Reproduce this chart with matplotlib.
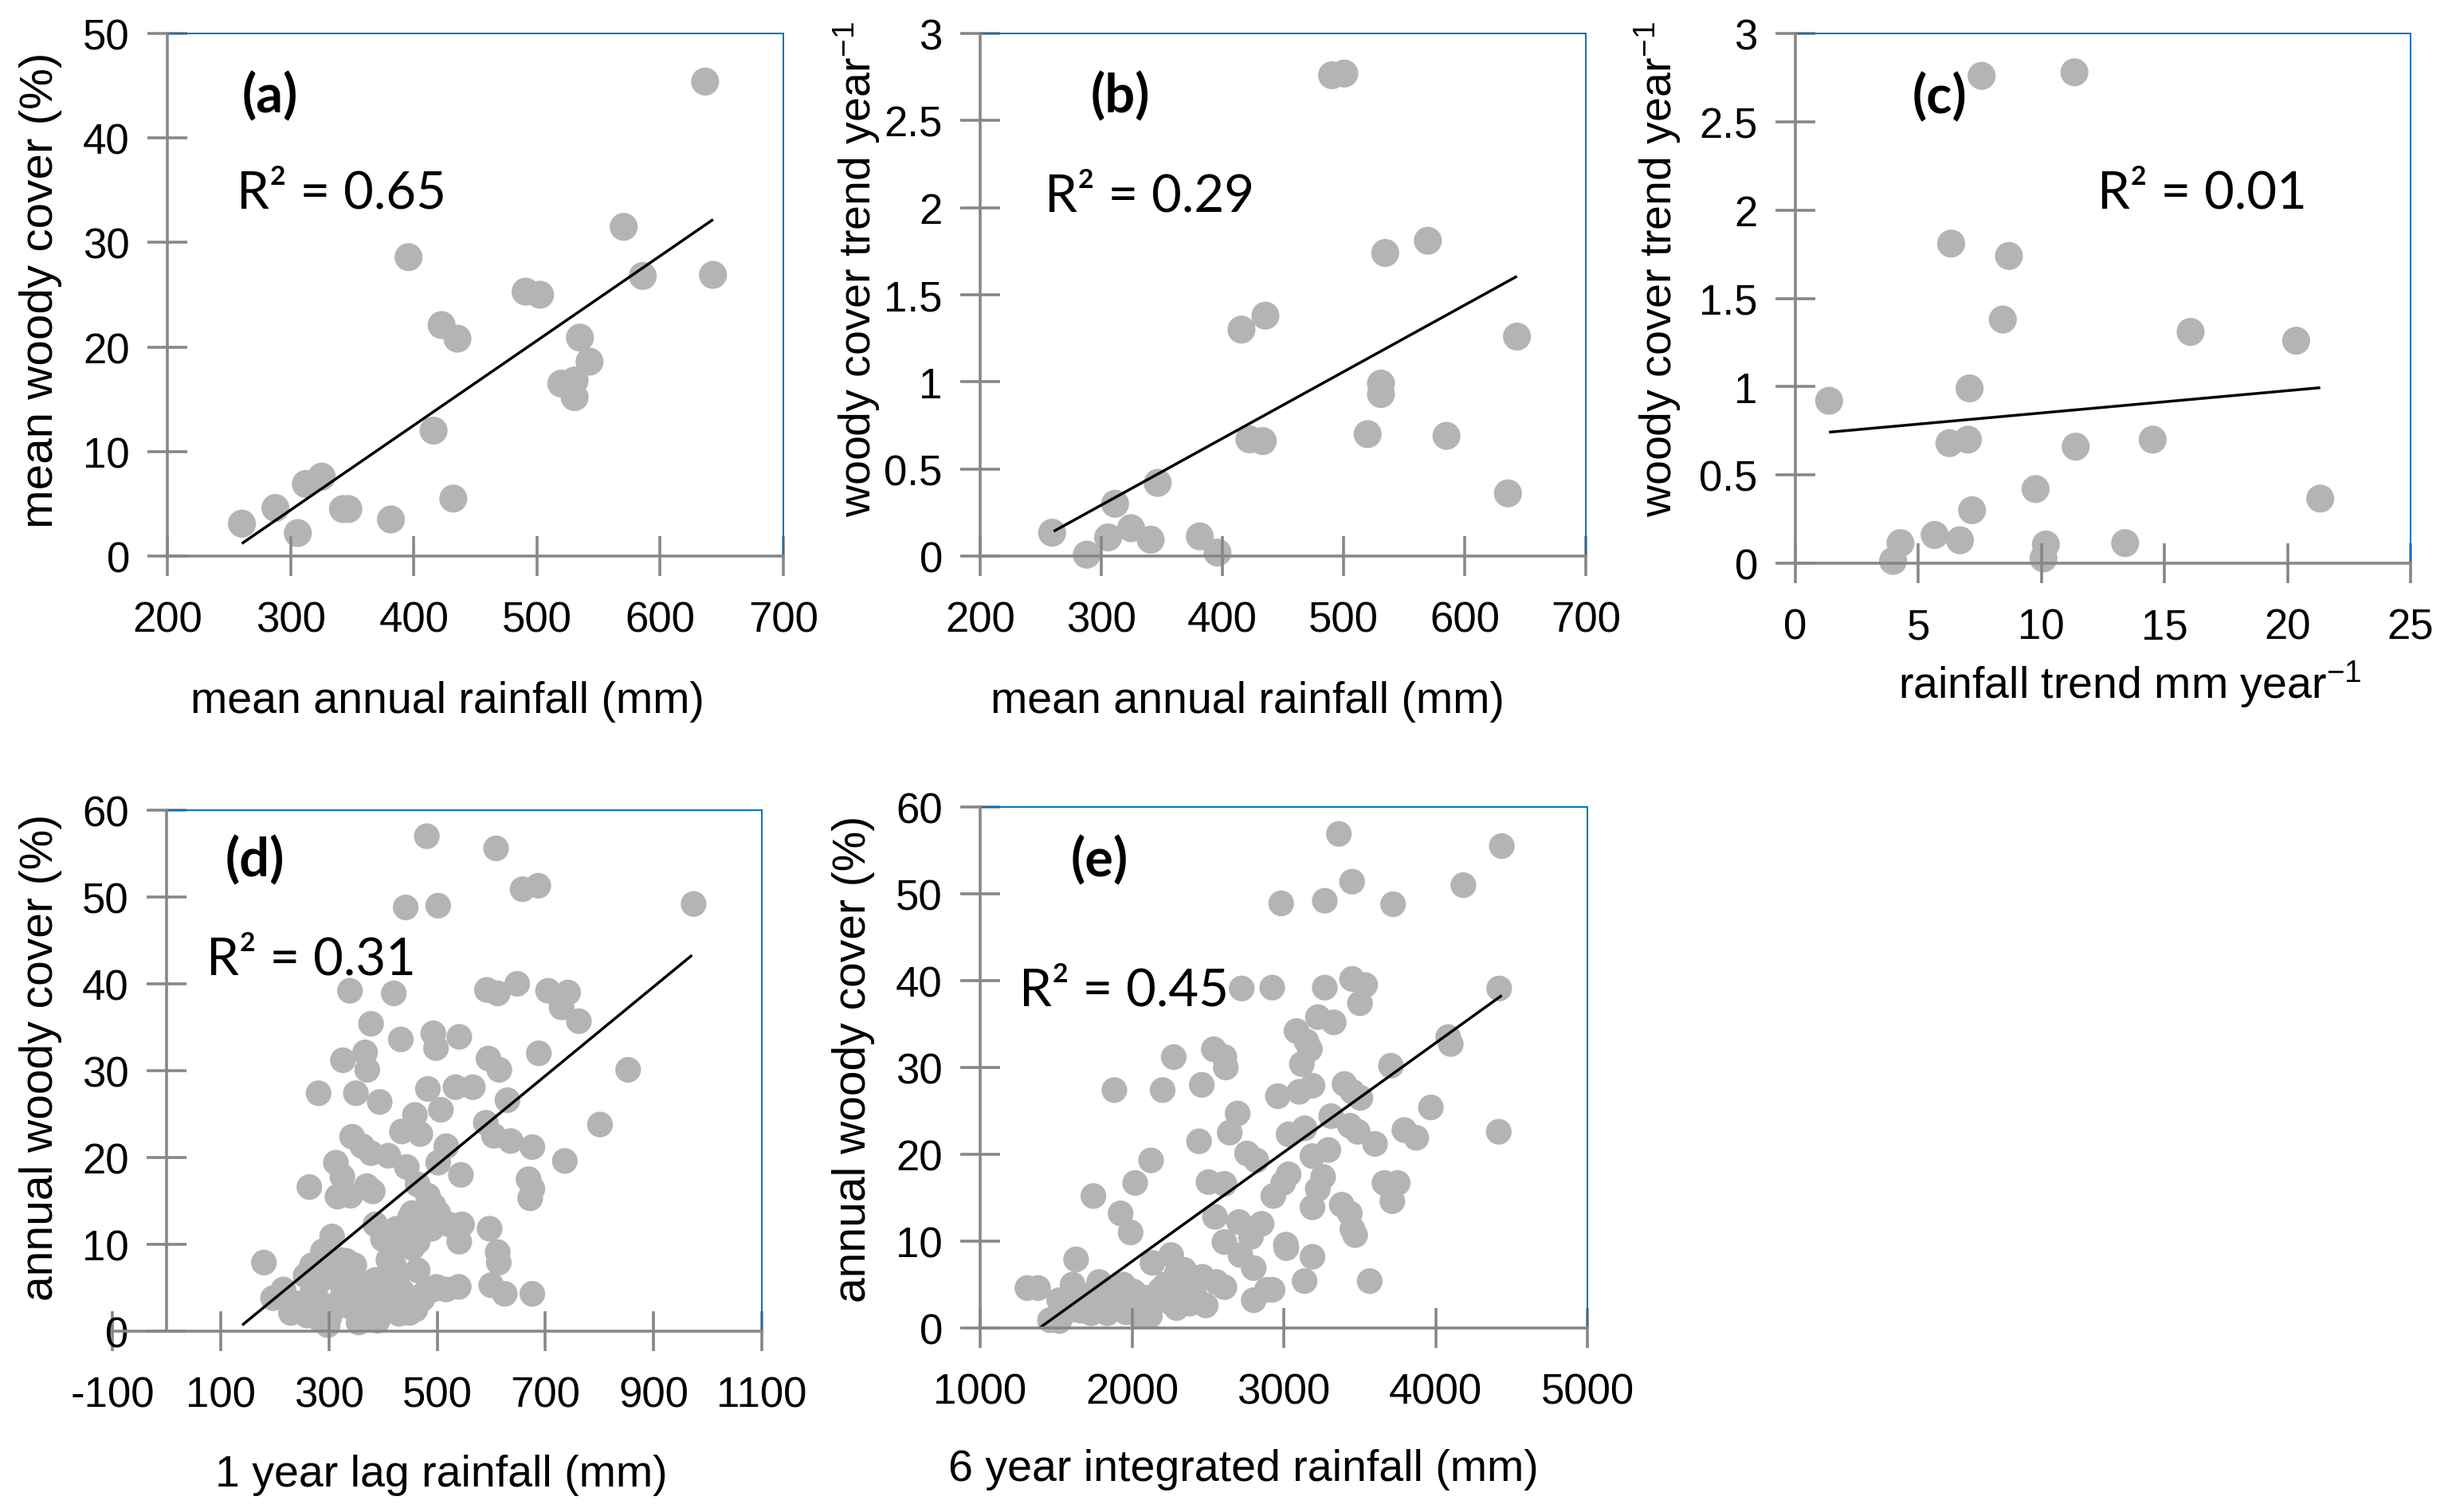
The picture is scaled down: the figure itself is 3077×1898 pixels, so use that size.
import numpy as np
import matplotlib
matplotlib.use("Agg")
import matplotlib.pyplot as plt

plt.rcParams['font.family'] = ['Liberation Sans', 'DejaVu Sans']
plt.rcParams['mathtext.fontset'] = 'custom'
plt.rcParams['mathtext.rm'] = 'Liberation Sans'
plt.rcParams['mathtext.it'] = 'Liberation Sans'

# ---------------- data ----------------
a_x = [260.5, 287.7, 305.9, 312.4, 325.3, 342.6, 346.9, 381.5, 395.8, 416.1, 422.6, 435.5,
       432.1, 490.8, 502.5, 519.8, 530.6, 530.6, 534.9, 542.7, 570.4, 585.9, 642.9, 636.5]
a_y = [3.1, 4.6, 2.2, 6.9, 7.6, 4.5, 4.5, 3.5, 28.6, 12.0, 22.1, 20.8,
       5.5, 25.3, 25.0, 16.5, 16.8, 15.2, 20.9, 18.6, 31.5, 26.8, 26.9, 45.4]
a_trend_x = [260.5, 643.0]
a_trend_y = [1.2, 32.2]

b_x = [259.4, 288.0, 305.6, 311.4, 324.6, 340.8, 346.6, 381.3, 395.9, 415.7, 435.5, 422.3,
       433.3, 490.5, 500.6, 519.9, 530.9, 530.9, 534.4, 569.6, 585.0, 635.7, 643.2]
b_y = [0.134, 0.008, 0.107, 0.30, 0.16, 0.094, 0.42, 0.113, 0.02, 1.30, 1.38, 0.67,
       0.66, 2.76, 2.77, 0.70, 0.99, 0.93, 1.74, 1.81, 0.69, 0.36, 1.26]
b_trend_x = [260.7, 643.2]
b_trend_y = [0.142, 1.606]

c_x = [1.37, 3.97, 4.27, 5.66, 6.33, 6.26, 6.69, 7.01, 7.08, 7.18, 7.57, 8.43, 8.68,
       9.76, 10.08, 10.18, 11.34, 11.39, 13.40, 14.52, 16.06, 20.35, 21.33]
c_y = [0.92, 0.013, 0.114, 0.16, 1.81, 0.68, 0.13, 0.70, 0.99, 0.30, 2.76, 1.38, 1.74,
       0.42, 0.027, 0.106, 2.78, 0.66, 0.114, 0.70, 1.31, 1.26, 0.366]
c_trend_x = [1.37, 21.33]
c_trend_y = [0.742, 0.994]

d_x = [481, 609, 442, 502, 658, 687, 974,
       339, 420, 592, 612, 648, 705, 742, 730, 762,
       378, 433, 493, 498, 541,
       326, 367, 371, 595, 615, 688, 853,
       281, 350, 394, 483, 534, 566, 507, 630,
       459, 435, 469, 590, 605, 636, 676, 801, 736,
       343, 362, 378, 410, 444, 313, 325, 264, 316, 340, 381, 370,
       502, 517, 544, 669, 676, 672,
       464, 483, 493, 454, 464, 450, 502, 522, 546, 541, 597, 612, 614,
       386, 400, 425, 439, 464, 490, 306, 289, 321,
       180, 269, 303, 332, 347, 410, 420, 464, 454,
       493, 517, 540, 600, 625, 676,
       197, 216, 237, 257, 230, 240, 260, 276, 267, 281, 298, 301, 284, 308, 328, 326,
       346, 336, 357, 371, 375, 370, 396, 410, 425, 435, 449, 450, 473, 474, 499, 318,
       337, 386, 415, 366, 279, 269, 290, 355, 390, 430, 460]
d_y = [57.0, 55.6, 48.8, 49.0, 50.9, 51.3, 49.2,
       39.2, 38.9, 39.3, 38.9, 40.0, 39.2, 39.0, 37.3, 35.7,
       35.4, 33.6, 34.3, 32.6, 33.9,
       31.2, 32.1, 30.1, 31.4, 30.1, 32.0, 30.1,
       27.4, 27.4, 26.4, 27.9, 28.1, 28.1, 25.5, 26.6,
       24.9, 23.0, 22.7, 24.0, 22.5, 21.9, 21.2, 23.8, 19.6,
       22.4, 21.3, 20.5, 20.2, 18.9, 19.4, 17.8, 16.6, 15.5, 15.6, 16.1, 16.7,
       19.4, 21.3, 18.0, 17.5, 16.4, 15.3,
       16.9, 15.6, 14.5, 13.6, 12.5, 13.1, 13.6, 12.3, 12.3, 10.3, 11.8, 9.1, 7.9,
       12.3, 10.6, 11.8, 10.1, 10.3, 11.8, 10.9, 9.2, 8.2,
       7.9, 7.6, 7.9, 8.1, 7.6, 8.2, 7.6, 7.0, 9.6,
       4.8, 4.8, 5.1, 5.3, 4.3, 4.3,
       3.8, 4.8, 2.9, 6.4, 2.1, 3.2, 1.8, 5.6, 3.3, 2.0, 0.7, 1.6, 1.3, 2.6, 3.7, 4.2,
       6.0, 2.9, 3.5, 1.5, 3.8, 2.0, 3.7, 2.6, 5.6, 4.6, 2.1, 3.8, 3.7, 4.2, 5.1, 5.9,
       6.2, 5.9, 5.4, 4.8, 5.4, 4.3, 3.0, 1.0, 1.2, 2.0, 2.5]
d_trend_x = [140, 971]
d_trend_y = [0.7, 43.3]

e_x = [3363, 3450, 4436, 4183, 2983, 3270, 3720,
       2723, 2924, 3270, 3450, 3536, 3502, 4419, 3225, 3329,
       2275, 2539, 2609, 2618, 1884, 2202, 2460, 2696, 2644, 2442, 2126, 2021, 1746, 1925,
       1991, 2758, 2819, 2504, 2609, 2547, 2705, 2854, 2784, 2609, 2714, 2802, 2889, 2802,
       1632, 1311, 1381, 1460, 1521, 1609, 1661, 1784, 1854, 1942, 1977, 2047, 2082, 2118,
       2135, 2258, 2293, 2188, 2293, 2433, 2486, 2556, 2609, 1732, 1837, 1521, 1626,
       2170, 2343, 2412, 2066, 1720, 1962, 2343, 2464, 2221, 1580, 2010, 1900, 2250, 2380,
       4083, 4100, 3706, 3969, 4416, 3794, 3873, 3601, 3452, 3505, 3400, 3084, 3172, 3119,
       3189, 2961, 3102, 3312, 3435, 3487, 3137, 3032, 3294, 3189, 3259, 3224, 3032, 2996,
       3189, 3382, 3435, 3452, 3470, 3663, 3750, 3715, 3014, 3189, 3137, 3566, 2926, 3150,
       2931, 3017]
e_y = [56.9, 51.4, 55.5, 51.0, 48.9, 49.2, 48.8,
       39.1, 39.2, 39.2, 40.2, 39.5, 37.4, 39.1, 35.8, 35.2,
       31.2, 32.1, 31.2, 30.0, 27.4, 27.4, 28.0, 24.7, 22.5, 21.5, 19.3, 16.7, 15.2, 13.2,
       11.0, 20.1, 19.3, 16.8, 16.6, 12.8, 12.2, 12.0, 10.5, 9.9, 8.4, 6.9, 4.4, 3.2,
       7.9, 4.6, 4.6, 0.9, 0.8, 5.0, 2.0, 5.3, 3.2, 5.0, 3.2, 1.4, 3.5, 1.4,
       7.5, 8.4, 6.2, 4.4, 2.3, 5.6, 2.6, 5.3, 4.7, 1.7, 1.7, 3.2, 3.2,
       3.9, 4.5, 3.7, 3.4, 3.7, 1.8, 6.7, 5.9, 5.0, 2.0, 4.2, 4.0, 3.0, 2.8,
       33.5, 32.7, 30.2, 25.4, 22.6, 22.8, 21.9, 21.2, 27.2, 26.5, 28.1, 34.2, 32.1, 30.4,
       27.9, 26.7, 27.2, 24.4, 23.3, 22.6, 23.0, 22.3, 20.5, 19.8, 17.4, 16.0, 17.7, 16.7,
       13.9, 14.2, 13.2, 11.4, 10.7, 16.7, 16.7, 14.6, 9.6, 8.2, 5.4, 5.4, 4.4, 33.0,
       15.2, 9.2]
e_trend_x = [1391, 4436]
e_trend_y = [0.0, 38.3]

xticks_a = [200, 300, 400, 500, 600, 700]
yticks_a = [0, 10, 20, 30, 40, 50]
xticks_b = [200, 300, 400, 500, 600, 700]
yticks_b = [0, 0.5, 1, 1.5, 2, 2.5, 3]
xticks_c = [0, 5, 10, 15, 20, 25]
yticks_c = [0, 0.5, 1, 1.5, 2, 2.5, 3]
xticks_d = [-100, 100, 300, 500, 700, 900, 1100]
yticks_d = [0, 10, 20, 30, 40, 50, 60]
xticks_e = [1000, 2000, 3000, 4000, 5000]
yticks_e = [0, 10, 20, 30, 40, 50, 60]

r2_text = ["R² = 0.65", "R² = 0.29", "R² = 0.01", "R² = 0.31", "R² = 0.45"]
panel_labels = ["(a)", "(b)", "(c)", "(d)", "(e)"]
xlabels = ["mean annual rainfall (mm)", "mean annual rainfall (mm)",
           "rainfall trend mm year$^{\\mathregular{-1}}$",
           "1 year lag rainfall (mm)", "6 year integrated rainfall (mm)"]
ylabels = ["mean woody cover (%)", "woody cover trend year$^{\\mathregular{-1}}$",
           "woody cover trend year$^{\\mathregular{-1}}$",
           "annual woody cover (%)", "annual woody cover (%)"]

# ---------------- style ----------------
W, H = 3077, 1899
DPI = 100
AX_GRAY = '#878787'
PT_GRAY = '#B4B4B4'
FRAME_BLUE = '#0070C0'
TICK_FS = 38
XLAB_FS = 40
R2_FS = 47
PL_FS = 48

fig = plt.figure(figsize=(W / DPI, H / DPI), dpi=DPI)


def rect(l, r, t, b):
    return [l / W, 1 - b / H, (r - l) / W, (b - t) / H]


panels = [
    dict(rect=rect(210, 983, 43, 699), x=a_x, y=a_y, tx=a_trend_x, ty=a_trend_y,
         xt=xticks_a, yt=yticks_a, s=640, yspine=200, yfs=42,
         pl=(0.166, 0.88), r2=(0.283, 0.695), xl=(0.454, -0.277), yl=(-0.206, 0.51)),
    dict(rect=rect(1230, 1990, 43, 699), x=b_x, y=b_y, tx=b_trend_x, ty=b_trend_y,
         xt=xticks_b, yt=yticks_b, s=640, yspine=200, yfs=40,
         pl=(0.231, 0.88), r2=(0.280, 0.689), xl=(0.442, -0.277), yl=(-0.204, 0.55)),
    dict(rect=rect(2253, 3025, 43, 708), x=c_x, y=c_y, tx=c_trend_x, ty=c_trend_y,
         xt=xticks_c, yt=yticks_c, s=640, yspine=0, yfs=40,
         pl=(0.234, 0.88), r2=(0.661, 0.70), xl=(0.544, -0.228), yl=(-0.224, 0.556)),
    dict(rect=rect(141, 956, 1018, 1672), x=d_x, y=d_y, tx=d_trend_x, ty=d_trend_y,
         xt=xticks_d, yt=yticks_d, s=540, yspine=0, yfs=41,
         pl=(0.22, 0.904), r2=(0.306, 0.714), xl=(0.506, -0.275), yl=(-0.110, 0.527)),
    dict(rect=rect(1230, 1992, 1014, 1668), x=e_x, y=e_y, tx=e_trend_x, ty=e_trend_y,
         xt=xticks_e, yt=yticks_e, s=540, yspine=1000, yfs=41,
         pl=(0.196, 0.898), r2=(0.237, 0.648), xl=(0.433, -0.271), yl=(-0.209, 0.518)),
]

for i, p in enumerate(panels):
    ax = fig.add_axes(p['rect'])
    ax.scatter(p['x'], p['y'], s=p['s'], color=PT_GRAY, edgecolors='none',
               zorder=1, clip_on=False)
    ax.plot(p['tx'], p['ty'], color='black', lw=2.5, zorder=2, solid_capstyle='butt')
    ax.set_xlim(p['xt'][0], p['xt'][-1])
    ax.set_ylim(p['yt'][0], p['yt'][-1])
    ax.set_xticks(p['xt'])
    ax.set_yticks(p['yt'])
    ax.set_xticklabels([f"{v:g}" for v in p['xt']])
    ax.set_yticklabels([f"{v:g}" for v in p['yt']])
    ax.spines['left'].set_position(('data', p['yspine']))
    for sp in ('left', 'bottom'):
        ax.spines[sp].set_color(AX_GRAY)
        ax.spines[sp].set_linewidth(2.6)
        ax.spines[sp].set_zorder(3)
    for sp in ('top', 'right'):
        ax.spines[sp].set_color(FRAME_BLUE)
        ax.spines[sp].set_linewidth(1.4)
    ax.spines['top'].set_bounds(p['yspine'], p['xt'][-1])
    ax.tick_params(axis='both', direction='inout', length=36, width=2.6,
                   color=AX_GRAY, labelsize=TICK_FS, labelcolor='black')
    ax.tick_params(axis='y', pad=16)
    ax.tick_params(axis='x', pad=22)
    ax.patch.set_visible(False)

    ax.text(p['pl'][0], p['pl'][1], panel_labels[i], transform=ax.transAxes,
            ha='center', va='center', fontsize=PL_FS, fontweight='bold',
            family=['Lato', 'DejaVu Sans'])
    ax.text(p['r2'][0], p['r2'][1], r2_text[i], transform=ax.transAxes,
            ha='center', va='center', fontsize=R2_FS, family=['Lato', 'DejaVu Sans'])
    ax.text(p['xl'][0], p['xl'][1], xlabels[i], transform=ax.transAxes,
            ha='center', va='center', fontsize=XLAB_FS)
    ax.text(p['yl'][0], p['yl'][1], ylabels[i], transform=ax.transAxes,
            ha='center', va='center', fontsize=p['yfs'], rotation=90)

fig.savefig("out.png", dpi=DPI, facecolor='white')
